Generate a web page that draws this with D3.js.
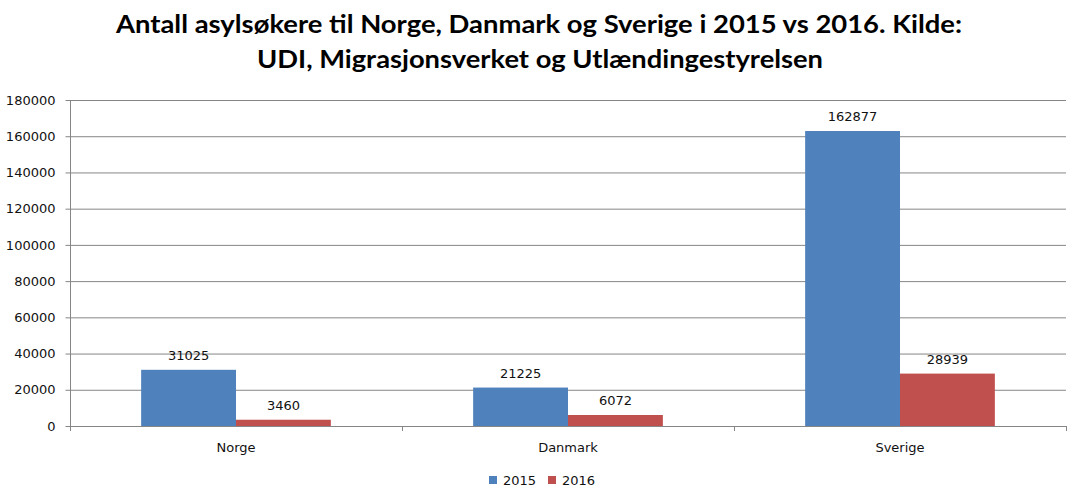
<!DOCTYPE html>
<html><head><meta charset="utf-8">
<script src="https://cdn.jsdelivr.net/npm/d3@7"></script>
<style>body{margin:0;background:#fff}svg{display:block}</style>
</head><body>
<script>
const categories = ["Norge", "Danmark", "Sverige"];
const seriesNames = ["2015", "2016"];
const values2015 = [31025, 21225, 162877];
const values2016 = [3460, 6072, 28939];
const yTicks = [0, 20000, 40000, 60000, 80000, 100000, 120000, 140000, 160000, 180000];
const colors = ["#4F81BD", "#C0504D"];

(function () {
const W = 1075, H = 501;
const svg = d3.select("body").append("svg").attr("width", W).attr("height", H);
const pLeft = 70, pRight = 1066, pTop = 100, pBottom = 426;
const FONT = "'DejaVu Sans', Verdana, sans-serif";

const x = d3.scaleBand().domain(categories).range([pLeft, pRight]);
const x1 = d3.scaleBand().domain(seriesNames).range([0, x.bandwidth()]).paddingOuter(0.75).paddingInner(0);
const y = d3.scaleLinear().domain([0, 180000]).range([pBottom, pTop]);

// title
const title = svg.append("g").attr("font-family", "Lato, 'Open Sans', sans-serif").attr("font-weight", "bold").attr("font-size", 24).attr("fill", "#000").attr("text-anchor", "middle");
title.append("text").attr("x", 539).attr("y", 33).attr("textLength", 846).attr("lengthAdjust", "spacingAndGlyphs").text("Antall asylsøkere til Norge, Danmark og Sverige i 2015 vs 2016. Kilde:");
title.append("text").attr("x", 540).attr("y", 68).attr("textLength", 566).attr("lengthAdjust", "spacingAndGlyphs").text("UDI, Migrasjonsverket og Utlændingestyrelsen");

// gridlines
svg.append("g").selectAll("line").data(yTicks.filter(d => d > 0)).join("line")
  .attr("x1", pLeft).attr("x2", pRight).attr("y1", d => y(d) + 0.5).attr("y2", d => y(d) + 0.5)
  .attr("stroke", "#868686").attr("stroke-width", 1);

// bars
const series = [values2015, values2016];
categories.forEach((c, i) => {
  seriesNames.forEach((s, j) => {
    const v = series[j][i];
    svg.append("rect")
      .attr("x", x(c) + x1(s)).attr("width", x1.bandwidth())
      .attr("y", y(v)).attr("height", pBottom - y(v))
      .attr("fill", colors[j]);
    svg.append("text")
      .attr("x", x(c) + x1(s) + x1.bandwidth() / 2).attr("y", y(v) - 10)
      .attr("text-anchor", "middle").attr("font-family", FONT)
      .attr("font-size", 13).attr("fill", "#111").text(v);
  });
});

// y axis
const yAxis = svg.append("g").attr("transform", `translate(${pLeft + 0.5},0)`)
  .call(d3.axisLeft(y).tickValues(yTicks).tickSize(5).tickPadding(10).tickFormat(d => String(d)));
yAxis.select(".domain").attr("stroke", "#868686").attr("d", `M0,${pTop}V${pBottom}`);
yAxis.selectAll(".tick line").attr("stroke", "#868686");
yAxis.selectAll(".tick text").attr("font-family", FONT).attr("font-size", 13).attr("fill", "#111");

// x axis
const xAxis = svg.append("g").attr("transform", `translate(0,${pBottom + 0.5})`)
  .call(d3.axisBottom(x).tickSize(0).tickPadding(16));
xAxis.select(".domain").attr("stroke", "#868686").attr("d", `M${pLeft},0H${pRight}`);
xAxis.selectAll(".tick text").attr("font-family", FONT).attr("font-size", 13).attr("fill", "#111");
svg.append("g").selectAll("line").data([...categories.map(c => x(c)), pRight]).join("line")
  .attr("x1", d => Math.round(d) + 0.5).attr("x2", d => Math.round(d) + 0.5)
  .attr("y1", pBottom).attr("y2", pBottom + 5).attr("stroke", "#868686");

// legend
const legend = svg.append("g").attr("font-family", FONT).attr("font-size", 13);
const legX = [489, 548];
seriesNames.forEach((s, j) => {
  legend.append("rect").attr("x", legX[j]).attr("y", 476).attr("width", 8).attr("height", 8).attr("fill", colors[j]);
  legend.append("text").attr("x", legX[j] + 14).attr("y", 485).attr("fill", "#111").text(s);
});
})();
</script>
</body></html>
